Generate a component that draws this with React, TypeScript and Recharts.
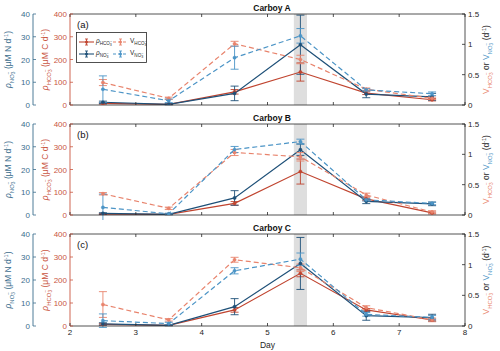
import React from 'react';
import { LineChart, Line, XAxis, YAxis, ErrorBar, ReferenceArea } from 'recharts';

// sampling days and axis ticks
const days = [2.5, 3.5, 4.5, 5.5, 6.5, 7.5];
const dayTicks = [2, 3, 4, 5, 6, 7, 8];
const hco3Ticks = [0, 100, 200, 300, 400];
const no3Ticks = [0, 10, 20, 30, 40];
const vTicks = [0, 0.5, 1, 1.5];

// Carboy A
const rhoHco3A = [7, 3, 58, 145, 52, 23];
const rhoHco3ErrA = [3, 1, 10, 40, 6, 5];
const rhoNo3A = [1.2, 0.3, 5.1, 26.5, 4.8, 3.6];
const rhoNo3ErrA = [0.5, 0.2, 3.2, 13, 1.6, 1.5];
const vHco3A = [0.37, 0.11, 1.01, 0.75, 0.26, 0.11];
const vHco3ErrA = [0.05, 0.02, 0.04, 0.07, 0.02, 0.02];
const vNo3A = [0.26, 0.07, 0.78, 1.14, 0.25, 0.185];
const vNo3ErrA = [0.22, 0.03, 0.19, 0.12, 0.02, 0.03];

// Carboy B
const rhoHco3B = [4, 3, 51, 191, 71, 9];
const rhoHco3ErrB = [2, 1, 8, 55, 8, 4];
const rhoNo3B = [0.7, 0.3, 7.5, 28.7, 6.0, 4.9];
const rhoNo3ErrB = [0.3, 0.2, 3.2, 2.5, 1.0, 0.8];
const vHco3B = [0.35, 0.11, 1.03, 0.96, 0.33, 0.05];
const vHco3ErrB = [0.02, 0.02, 0.05, 0.07, 0.03, 0.02];
const vNo3B = [0.125, 0.02, 1.08, 1.21, 0.25, 0.19];
const vNo3ErrB = [0.22, 0.01, 0.05, 0.04, 0.02, 0.02];

// Carboy C
const rhoHco3C = [7, 3, 70, 229, 70, 26];
const rhoHco3ErrC = [3, 1, 10, 15, 6, 4];
const rhoNo3C = [0.9, 0.3, 8.4, 27.2, 4.5, 3.6];
const rhoNo3ErrC = [0.5, 0.2, 3.5, 11.3, 2.0, 1.5];
const vHco3C = [0.35, 0.1, 1.08, 0.95, 0.3, 0.1];
const vHco3ErrC = [0.21, 0.02, 0.04, 0.06, 0.03, 0.03];
const vNo3C = [0.087, 0.04, 0.9, 1.09, 0.19, 0.14];
const vNo3ErrC = [0.11, 0.02, 0.05, 0.1, 0.03, 0.03];

const RED = '#c0442f';
const SALMON = '#e8836c';
const NAVY = '#1e5078';
const SKY = '#4b94c6';
const RED_AXIS = '#c9553f';
const BLUE_AXIS = '#3b6d8d';
const DARK = '#262626';
const FONT = '"Liberation Sans", Arial, Helvetica, sans-serif';

const buildRows = (rh, rhE, rn, rnE, vh, vhE, vn, vnE) =>
  days.map((d, i) => ({
    day: d,
    rh: rh[i], rhE: rhE[i],
    rn: rn[i], rnE: rnE[i],
    vh: vh[i], vhE: vhE[i],
    vn: vn[i], vnE: vnE[i],
  }));

const rowsA = buildRows(rhoHco3A, rhoHco3ErrA, rhoNo3A, rhoNo3ErrA, vHco3A, vHco3ErrA, vNo3A, vNo3ErrA);
const rowsB = buildRows(rhoHco3B, rhoHco3ErrB, rhoNo3B, rhoNo3ErrB, vHco3B, vHco3ErrB, vNo3B, vNo3ErrB);
const rowsC = buildRows(rhoHco3C, rhoHco3ErrC, rhoNo3C, rhoNo3ErrC, vHco3C, vHco3ErrC, vNo3C, vNo3ErrC);

// ion written as HCO3- / NO3- with sub and superscripts; next span must add dy={0.07*s}
const ion = (name: string, s: number) => [
  <tspan key="i" dy={0.3 * s} fontSize={0.7 * s}>{name}</tspan>,
  <tspan key="n" dy={0.18 * s} fontSize={0.55 * s}>3</tspan>,
  <tspan key="c" dx={-0.3 * s} dy={-0.55 * s} fontSize={0.55 * s}>−</tspan>,
];

const rhoLabel = (cx: number, cy: number, name: string, unit: string, color: string) => {
  const s = 8.5;
  return (
    <text x={cx} y={cy} transform={`rotate(-90 ${cx} ${cy})`} textAnchor="middle" fill={color} fontSize={s}>
      <tspan fontStyle="italic">ρ</tspan>
      {ion(name, s)}
      <tspan dy={0.07 * s}>{` (μM ${unit} d`}</tspan>
      <tspan dy={-0.35 * s} fontSize={0.65 * s}>-1</tspan>
      <tspan dy={0.35 * s}>)</tspan>
    </text>
  );
};

const vLabel = (cx: number, cy: number) => {
  const s = 8.5;
  return (
    <text x={cx} y={cy} transform={`rotate(-90 ${cx} ${cy})`} textAnchor="middle" fontSize={s} fill={DARK}>
      <tspan fill={SALMON}>V</tspan>
      <tspan fill={SALMON} dy={0.3 * s} fontSize={0.7 * s}>HCO</tspan>
      <tspan fill={SALMON} dy={0.18 * s} fontSize={0.55 * s}>3</tspan>
      <tspan fill={SALMON} dx={-0.3 * s} dy={-0.55 * s} fontSize={0.55 * s}>−</tspan>
      <tspan dy={0.07 * s}>{' or '}</tspan>
      <tspan fill={SKY}>V</tspan>
      <tspan fill={SKY} dy={0.3 * s} fontSize={0.7 * s}>NO</tspan>
      <tspan fill={SKY} dy={0.18 * s} fontSize={0.55 * s}>3</tspan>
      <tspan fill={SKY} dx={-0.3 * s} dy={-0.55 * s} fontSize={0.55 * s}>−</tspan>
      <tspan dy={0.07 * s}>{' (d'}</tspan>
      <tspan dy={-0.35 * s} fontSize={0.65 * s}>-1</tspan>
      <tspan dy={0.35 * s}>)</tspan>
    </text>
  );
};

// ticks point inward like matlab; x,y given are the label anchor
const leftTick = (color: string) => (props: any) => {
  const { x, y, payload } = props;
  return (
    <g>
      <line x1={x + 3} x2={x + 6} y1={y} y2={y} stroke={color} strokeWidth={0.8} />
      <text x={x} y={y} dy={3} textAnchor="end" fontSize={8} fill={color}>{payload.value}</text>
    </g>
  );
};

const rightTick = (props: any) => {
  const { x, y, payload } = props;
  return (
    <g>
      <line x1={x - 3} x2={x - 6} y1={y} y2={y} stroke={DARK} strokeWidth={0.8} />
      <text x={x} y={y} dy={3} textAnchor="start" fontSize={8} fill={DARK}>{payload.value}</text>
    </g>
  );
};

const bottomTick = (withText: boolean) => (props: any) => {
  const { x, y, payload } = props;
  return (
    <g>
      <line x1={x} x2={x} y1={y - 4} y2={y - 7} stroke={DARK} strokeWidth={0.8} />
      {withText && <text x={x} y={y + 5} textAnchor="middle" fontSize={8} fill={DARK}>{payload.value}</text>}
    </g>
  );
};

const topTick = (props: any) => {
  const { x, y } = props;
  return <line x1={x} x2={x} y1={y} y2={y + 3} stroke={DARK} strokeWidth={0.8} />;
};

const LegendEntry = ({ x, y, color, dashed, head, name }) => (
  <g>
    <line x1={x} x2={x + 15} y1={y} y2={y} stroke={color} strokeWidth={1.1} strokeDasharray={dashed ? '3 2' : undefined} />
    <line x1={x + 7.5} x2={x + 7.5} y1={y - 3} y2={y + 3} stroke={color} strokeWidth={0.9} />
    <line x1={x + 6} x2={x + 9} y1={y - 3} y2={y - 3} stroke={color} strokeWidth={0.9} />
    <line x1={x + 6} x2={x + 9} y1={y + 3} y2={y + 3} stroke={color} strokeWidth={0.9} />
    <circle cx={x + 7.5} cy={y} r={1.5} fill={color} />
    <text x={x + 17} y={y + 1} fontSize={6.5} fill={DARK}>
      <tspan fontStyle={head === 'ρ' ? 'italic' : 'normal'}>{head}</tspan>
      {ion(name, 6.5)}
    </text>
  </g>
);

const LegendBox = () => (
  <svg width={71} height={31} style={{ position: 'absolute', left: 76, top: 32 }}>
    <rect x={0.5} y={0.5} width={70} height={30} fill="#fff" stroke={DARK} strokeWidth={0.8} />
    <LegendEntry x={3} y={10} color={RED} head="ρ" name="HCO" />
    <LegendEntry x={37} y={10} color={SALMON} dashed head="V" name="HCO" />
    <LegendEntry x={3} y={22} color={NAVY} head="ρ" name="NO" />
    <LegendEntry x={37} y={22} color={SKY} dashed head="V" name="NO" />
  </svg>
);

const Panel = ({ rows, title, tag, height, showX, showLegend }) => (
  <div style={{ position: 'relative', width: 500, height }}>
    <LineChart width={500} height={height} data={rows} margin={{ top: 13, right: 0, bottom: showX ? 0 : 4, left: 0 }}>
      <XAxis
        xAxisId="b" dataKey="day" type="number" domain={[2, 8]} ticks={dayTicks} allowDataOverflow interval={0}
        height={showX ? 25 : 1} tickSize={0} tickMargin={4} tickLine={false}
        axisLine={{ stroke: DARK, strokeWidth: 0.8 }} tick={bottomTick(showX)}
        label={showX ? { content: (p: any) => {
          const vb = p.viewBox;
          return <text x={vb.x + vb.width / 2} y={vb.y + 22} textAnchor="middle" fontSize={8.5} fill={DARK}>Day</text>;
        } } : undefined}
      />
      <XAxis
        xAxisId="t" orientation="top" dataKey="day" type="number" domain={[2, 8]} ticks={dayTicks} allowDataOverflow interval={0}
        height={1} tickSize={0} tickMargin={0} tickLine={false}
        axisLine={{ stroke: DARK, strokeWidth: 0.8 }} tick={topTick}
      />
      <YAxis
        yAxisId="hco3" domain={[0, 400]} ticks={hco3Ticks} allowDataOverflow interval={0} width={37}
        tickSize={0} tickMargin={3} tickLine={false} axisLine={{ stroke: RED_AXIS, strokeWidth: 0.9 }}
        tick={leftTick(RED_AXIS)}
        label={{ content: (p: any) => {
          const vb = p.viewBox;
          const right = vb.x + vb.width;
          return (
            <g>
              {rhoLabel(vb.x + 15, vb.y + vb.height / 2, 'HCO', 'C', RED_AXIS)}
              <text x={right + 202} y={vb.y - 3} textAnchor="middle" fontSize={8.5} fontWeight="bold" fill="#111">{title}</text>
              <text x={right + 7} y={vb.y + 14} fontSize={9.5} fill="#111">{tag}</text>
            </g>
          );
        } }}
      />
      <YAxis
        yAxisId="no3" domain={[0, 40]} ticks={no3Ticks} allowDataOverflow interval={0} width={33}
        tickSize={0} tickMargin={3} tickLine={false} axisLine={{ stroke: BLUE_AXIS, strokeWidth: 0.9 }}
        tick={leftTick(BLUE_AXIS)}
        label={{ content: (p: any) => {
          const vb = p.viewBox;
          return rhoLabel(vb.x + 11, vb.y + vb.height / 2, 'NO', 'N', BLUE_AXIS);
        } }}
      />
      <YAxis
        yAxisId="v" orientation="right" domain={[0, 1.5]} ticks={vTicks} allowDataOverflow interval={0} width={35}
        tickSize={0} tickMargin={3} tickLine={false} axisLine={{ stroke: DARK, strokeWidth: 0.8 }}
        tick={rightTick}
        label={{ content: (p: any) => {
          const vb = p.viewBox;
          return vLabel(vb.x + 24, vb.y + vb.height / 2);
        } }}
      />
      <ReferenceArea xAxisId="b" yAxisId="hco3" x1={5.4} x2={5.6} fill="#dedede" fillOpacity={1} stroke="none" />
      <Line xAxisId="b" yAxisId="hco3" type="linear" dataKey="rh" stroke={RED} strokeWidth={1.2}
        dot={{ r: 1.6, fill: RED, stroke: RED, strokeWidth: 0.5 }} isAnimationActive={false}>
        <ErrorBar dataKey="rhE" width={4} stroke={RED} strokeWidth={0.9} direction="y" />
      </Line>
      <Line xAxisId="b" yAxisId="no3" type="linear" dataKey="rn" stroke={NAVY} strokeWidth={1.2}
        dot={{ r: 1.6, fill: NAVY, stroke: NAVY, strokeWidth: 0.5 }} isAnimationActive={false}>
        <ErrorBar dataKey="rnE" width={4} stroke={NAVY} strokeWidth={0.9} direction="y" />
      </Line>
      <Line xAxisId="b" yAxisId="v" type="linear" dataKey="vh" stroke={SALMON} strokeWidth={1.2} strokeDasharray="5 3"
        dot={{ r: 1.6, fill: SALMON, stroke: SALMON, strokeWidth: 0.5, strokeDasharray: '0' }} isAnimationActive={false}>
        <ErrorBar dataKey="vhE" width={4} stroke={SALMON} strokeWidth={0.9} direction="y" />
      </Line>
      <Line xAxisId="b" yAxisId="v" type="linear" dataKey="vn" stroke={SKY} strokeWidth={1.2} strokeDasharray="5 3"
        dot={{ r: 1.6, fill: SKY, stroke: SKY, strokeWidth: 0.5, strokeDasharray: '0' }} isAnimationActive={false}>
        <ErrorBar dataKey="vnE" width={4} stroke={SKY} strokeWidth={0.9} direction="y" />
      </Line>
    </LineChart>
    {showLegend && <LegendBox />}
  </div>
);

export default function App() {
  return (
    <div style={{ position: 'absolute', left: 0, top: 0, width: 500, height: 351, background: '#fff', fontFamily: FONT }}>
      <Panel rows={rowsA} title="Carboy A" tag="(a)" height={110} showX={false} showLegend />
      <Panel rows={rowsB} title="Carboy B" tag="(b)" height={110} showX={false} showLegend={false} />
      <Panel rows={rowsC} title="Carboy C" tag="(c)" height={131} showX showLegend={false} />
    </div>
  );
}
